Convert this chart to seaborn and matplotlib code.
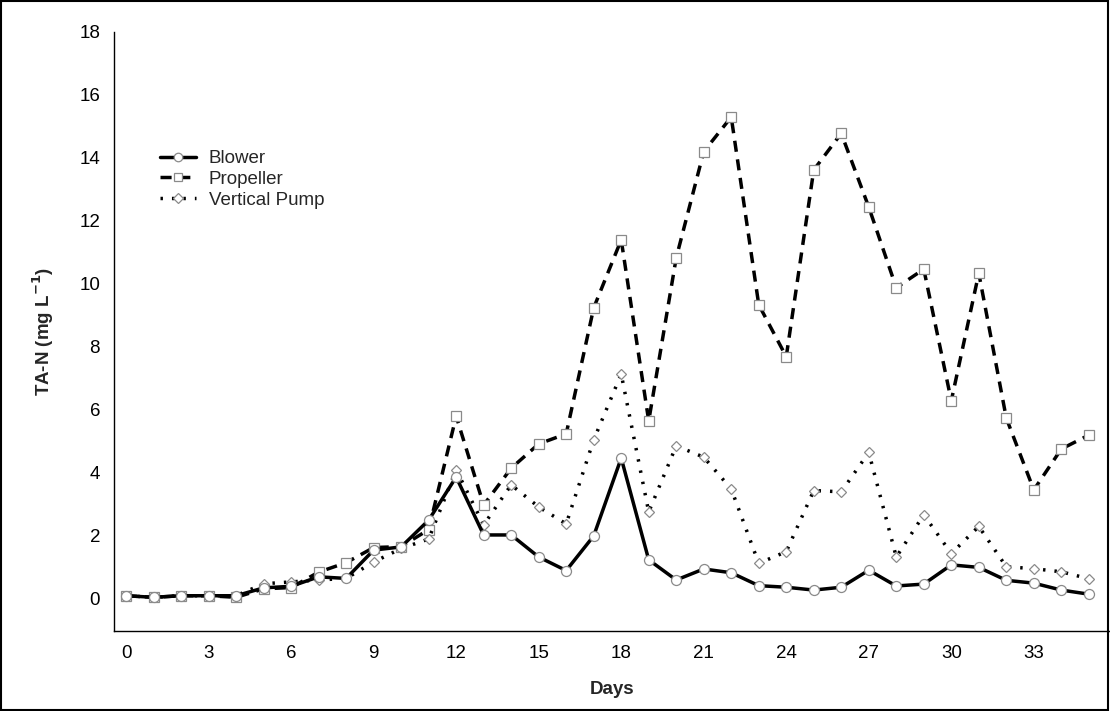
import matplotlib
matplotlib.use("Agg")
import matplotlib.pyplot as plt
import seaborn as sns
import numpy as np
import pandas as pd

days = list(range(36))
blower = [0.1, 0.05, 0.1, 0.1, 0.1, 0.35, 0.4, 0.7, 0.65, 1.55, 1.65, 2.5,
          3.87, 2.03, 2.03, 1.33, 0.9, 2.0, 4.47, 1.24, 0.6, 0.95, 0.83, 0.42,
          0.37, 0.28, 0.37, 0.91, 0.41, 0.47, 1.08, 1.0, 0.59, 0.5, 0.28, 0.15]
propeller = [0.1, 0.05, 0.1, 0.1, 0.05, 0.32, 0.36, 0.85, 1.15, 1.63, 1.66, 2.2,
             5.8, 2.98, 4.15, 4.92, 5.24, 9.24, 11.4, 5.65, 10.83, 14.2, 15.3, 9.34,
             7.69, 13.62, 14.78, 12.44, 9.88, 10.47, 6.29, 10.34, 5.74, 3.46, 4.76, 5.2]
vertical_pump = [0.1, 0.05, 0.1, 0.1, 0.1, 0.48, 0.54, 0.6, 0.65, 1.17, 1.6, 1.9,
                 4.1, 2.35, 3.62, 2.92, 2.38, 5.05, 7.14, 2.76, 4.86, 4.5, 3.49, 1.13,
                 1.5, 3.44, 3.4, 4.65, 1.33, 2.67, 1.44, 2.3, 1.02, 0.96, 0.86, 0.64]
series_names = ["Blower", "Propeller", "Vertical Pump"]
x_ticks = list(range(0, 34, 3))
y_ticks = list(range(0, 19, 2))

sns.set_theme(style="white")
plt.rcParams["font.family"] = ["Liberation Sans", "DejaVu Sans"]

fig = plt.figure(figsize=(11.1, 7.11), dpi=100)
ax = fig.add_axes([0.1027, 0.1125, 0.8973, 0.8425])

styles = {
    "Propeller": dict(marker="s", linestyle=(0, (3.2, 2.2)), ms=7.5, zorder=2),
    "Vertical Pump": dict(marker="D", linestyle=(0, (0.7, 2.6)), ms=5.5, zorder=3),
    "Blower": dict(marker="o", linestyle="-", ms=7.2, zorder=4),
}
data_map = {"Blower": blower, "Propeller": propeller, "Vertical Pump": vertical_pump}

for name in ["Propeller", "Vertical Pump", "Blower"]:
    st = styles[name]
    df = pd.DataFrame({"Days": days, "val": data_map[name]})
    sns.lineplot(data=df, x="Days", y="val", ax=ax, color="black",
                 linestyle=st["linestyle"], linewidth=2.5,
                 marker=st["marker"], markersize=st["ms"],
                 markerfacecolor="white", markeredgecolor="#8a8a8a",
                 markeredgewidth=0.9, zorder=st["zorder"], label=name)

ax.set_xlim(-0.44, 35.77)
ax.set_ylim(-1.02, 18)
ax.set_xticks(x_ticks)
ax.set_yticks(y_ticks)
ax.tick_params(axis="both", length=0, labelsize=13.5, colors="black")
ax.tick_params(axis="y", pad=10)
ax.tick_params(axis="x", pad=10)
for s in ["top", "right"]:
    ax.spines[s].set_visible(False)
for s in ["left", "bottom"]:
    ax.spines[s].set_color("black")
    ax.spines[s].set_linewidth(1.0)

ax.set_xlabel("Days", fontsize=13.5, fontweight="bold", labelpad=14)
ax.set_ylabel("TA-N (mg L$^{\\mathbf{-1}}$)", fontsize=13.5, fontweight="bold", labelpad=17)

handles, labels = ax.get_legend_handles_labels()
order = [labels.index(n) for n in series_names]
leg = ax.legend([handles[i] for i in order], [labels[i] for i in order],
                loc="upper left", bbox_to_anchor=(0.1441, 0.789),
                bbox_transform=fig.transFigure, borderpad=0, borderaxespad=0,
                frameon=False, fontsize=13.5, handlelength=1.9, markerscale=0.85,
                labelspacing=0.2, handletextpad=0.7)

fig.patches.append(plt.Rectangle((0.001, 0.001), 0.997, 0.997, transform=fig.transFigure,
                                 fill=False, edgecolor="black", linewidth=1.5))

fig.savefig("out.png", dpi=100)
